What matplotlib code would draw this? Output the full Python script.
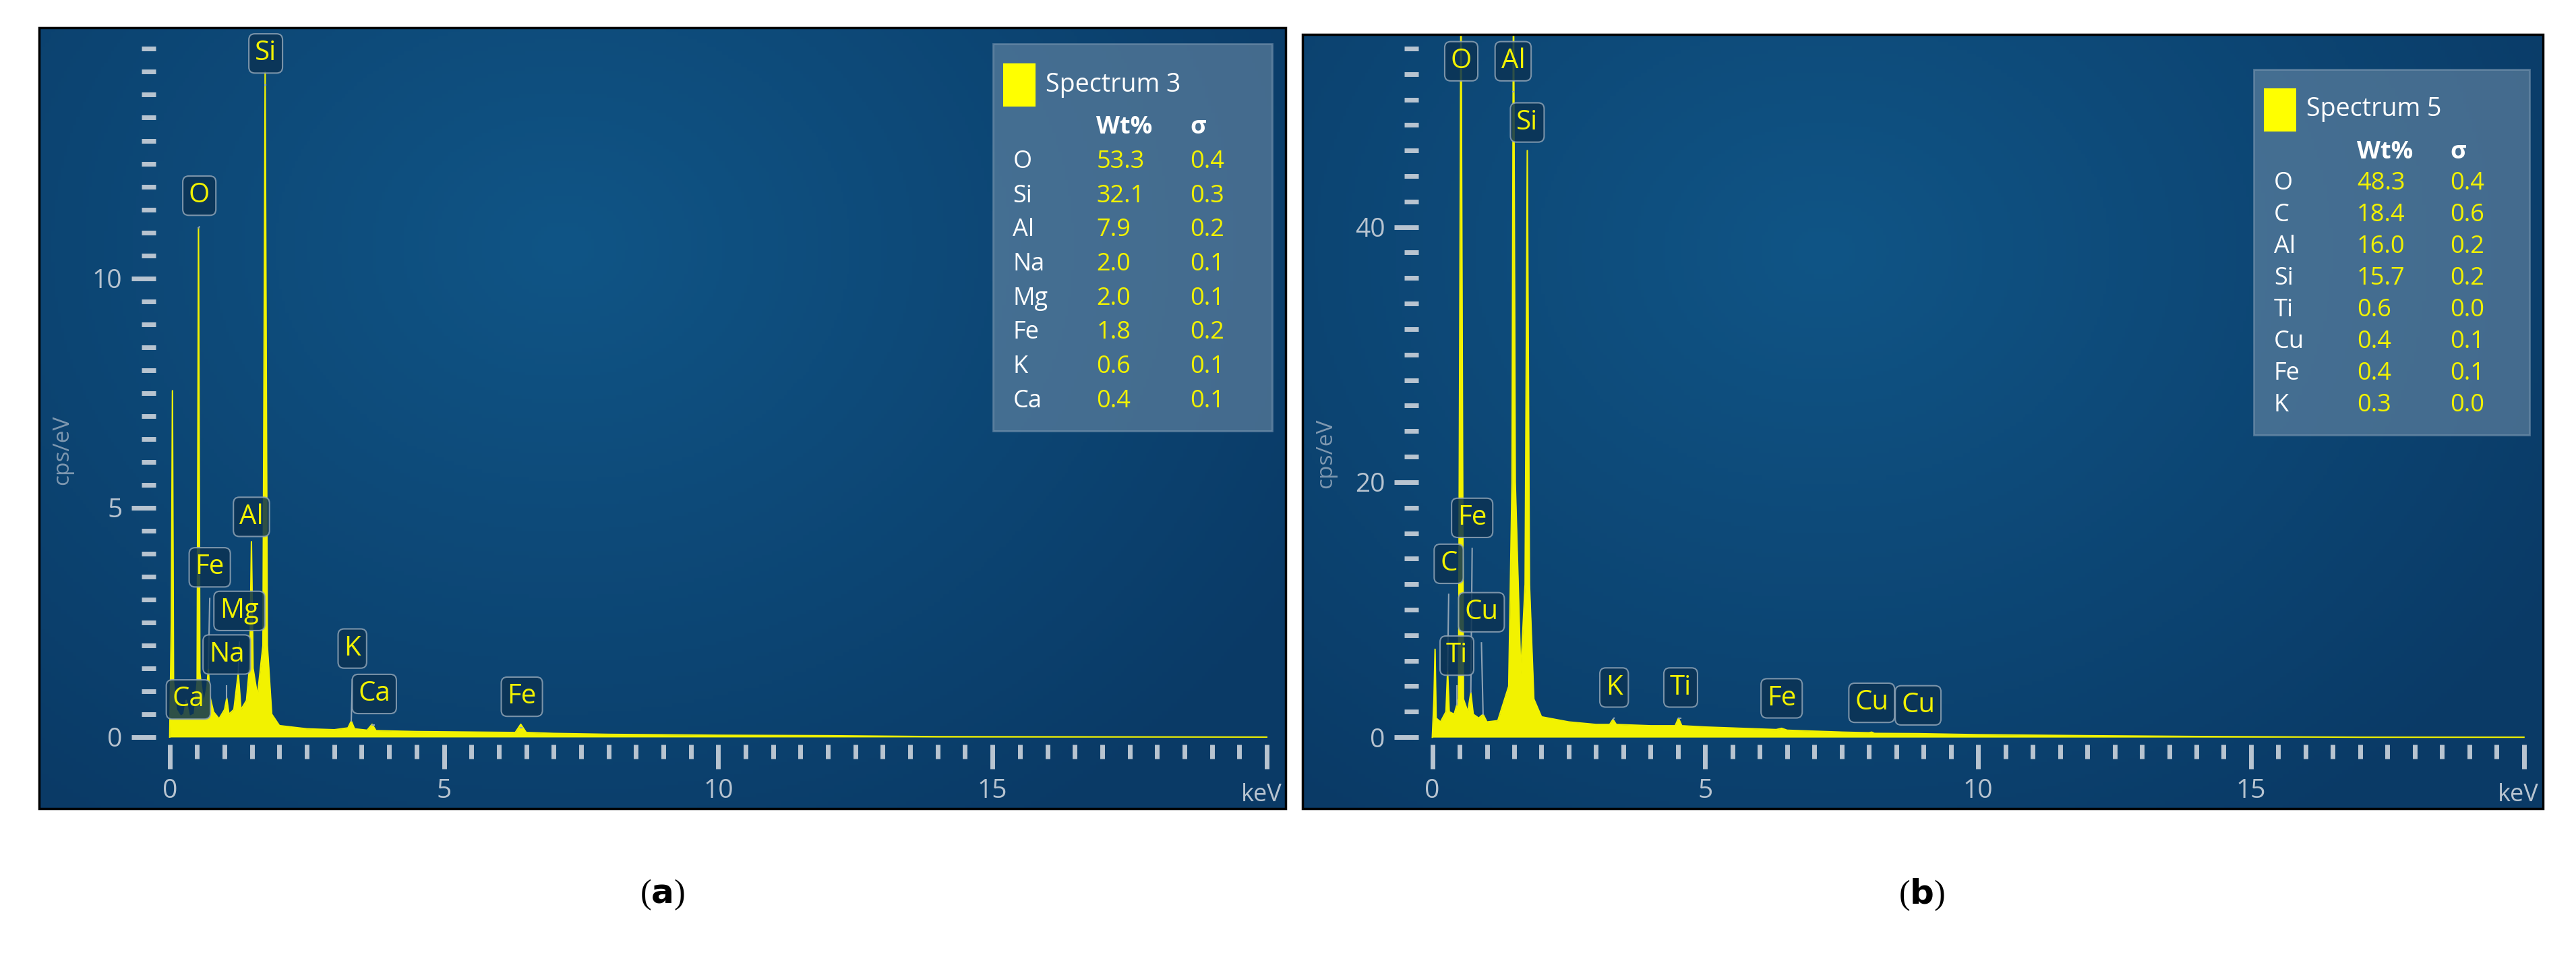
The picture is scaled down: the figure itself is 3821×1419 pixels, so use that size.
import matplotlib
matplotlib.use("Agg")
import matplotlib.pyplot as plt
from matplotlib.patches import Rectangle
from matplotlib.ticker import FixedLocator
import numpy as np

# Spectrum 3 (panel a): energy (keV) and intensity (cps/eV)
energy_a = [0.0, 0.03, 0.05, 0.07, 0.12, 0.2, 0.26, 0.3, 0.36, 0.45, 0.5, 0.525, 0.55, 0.62,
            0.68, 0.705, 0.73, 0.8, 0.9, 1.0, 1.04, 1.08, 1.17, 1.25, 1.3, 1.4, 1.46, 1.49,
            1.52, 1.6, 1.7, 1.74, 1.78, 1.86, 2.0, 2.5, 3.0, 3.25, 3.31, 3.37, 3.6, 3.69, 3.76,
            4.5, 6.3, 6.4, 6.5, 7.0, 8.0, 10.0, 12.0, 14.0, 20.0]
counts_a = [0.0, 2.5, 7.55, 1.2, 0.6, 0.45, 0.5, 0.8, 0.45, 0.5, 1.2, 11.1, 1.4, 0.7,
            1.1, 1.5, 0.9, 0.55, 0.4, 0.6, 0.85, 0.5, 0.6, 1.4, 0.6, 0.8, 1.6, 4.26,
            1.5, 0.9, 2.0, 14.5, 2.0, 0.5, 0.25, 0.18, 0.16, 0.2, 0.35, 0.18, 0.15, 0.28, 0.14,
            0.12, 0.1, 0.28, 0.1, 0.08, 0.06, 0.04, 0.03, 0.01, 0.0]

# Spectrum 5 (panel b)
energy_b = [0.0, 0.03, 0.05, 0.07, 0.15, 0.25, 0.28, 0.31, 0.4, 0.48, 0.525, 0.57, 0.65,
            0.705, 0.75, 0.85, 0.93, 1.0, 1.2, 1.4, 1.46, 1.487, 1.52, 1.62, 1.7, 1.74,
            1.78, 1.86, 2.0, 2.5, 3.0, 3.25, 3.31, 3.37, 4.0, 4.45, 4.51, 4.57, 5.0, 6.3,
            6.4, 6.5, 7.5, 8.0, 8.05, 8.1, 8.9, 10.0, 12.0, 14.0, 17.0, 20.0]
counts_b = [0.0, 3.0, 6.9, 1.5, 1.2, 2.0, 5.2, 2.0, 1.8, 3.0, 60.0, 3.0, 2.0,
            3.5, 1.8, 1.5, 1.8, 1.2, 1.3, 4.0, 20.0, 60.0, 20.0, 5.0, 12.0, 46.0,
            12.0, 3.0, 1.6, 1.2, 1.0, 1.0, 1.4, 1.0, 0.9, 0.9, 1.5, 0.9, 0.8, 0.6,
            0.7, 0.55, 0.4, 0.35, 0.4, 0.3, 0.28, 0.2, 0.12, 0.06, 0.0, 0.0]

# peak labels: element, label position (keV, cps/eV), peak energy
labels_a = [("Si", 1.75, 14.9, 1.74), ("O", 0.54, 11.8, 0.525), ("Al", 1.49, 4.8, 1.49),
            ("Fe", 0.73, 3.7, 0.705), ("Mg", 1.27, 2.75, 1.25), ("Na", 1.04, 1.8, 1.04),
            ("Ca", 0.34, 0.82, 0.34), ("K", 3.33, 1.93, 3.31), ("Ca", 3.73, 0.94, 3.69),
            ("Fe", 6.42, 0.88, 6.4)]
labels_b = [("O", 0.53, 53.0, 0.525), ("Al", 1.48, 53.0, 1.487), ("Si", 1.74, 48.2, 1.74),
            ("Fe", 0.73, 17.2, 0.705), ("C", 0.3, 13.6, 0.28), ("Cu", 0.9, 9.8, 0.93),
            ("Ti", 0.45, 6.4, 0.45), ("K", 3.33, 3.9, 3.31), ("Ti", 4.55, 3.9, 4.51),
            ("Fe", 6.4, 3.05, 6.4), ("Cu", 8.05, 2.7, 8.05), ("Cu", 8.9, 2.5, 8.9)]

# quantification tables
elements_a = ["O", "Si", "Al", "Na", "Mg", "Fe", "K", "Ca"]
wt_a = ["53.3", "32.1", "7.9", "2.0", "2.0", "1.8", "0.6", "0.4"]
sigma_a = ["0.4", "0.3", "0.2", "0.1", "0.1", "0.2", "0.1", "0.1"]
elements_b = ["O", "C", "Al", "Si", "Ti", "Cu", "Fe", "K"]
wt_b = ["48.3", "18.4", "16.0", "15.7", "0.6", "0.4", "0.4", "0.3"]
sigma_b = ["0.4", "0.6", "0.2", "0.2", "0.0", "0.1", "0.1", "0.0"]

YELLOW = "#f2f200"
TICK = "#b8c4d0"
FONT = "Open Sans"


def background(ax):
    ny, nx = 200, 400
    yy, xx = np.mgrid[0:1:ny * 1j, 0:1:nx * 1j]
    r = np.sqrt(((xx - 0.42) * 1.3) ** 2 + (yy - 0.72) ** 2)
    t = np.clip(r / 0.9, 0, 1)
    c0 = np.array([0x10, 0x55, 0x86]) / 255
    c1 = np.array([0x0a, 0x3a, 0x66]) / 255
    img = c0 * (1 - t[..., None]) + c1 * t[..., None]
    ax.imshow(img, extent=(0, 1, 0, 1), origin="lower", transform=ax.transAxes,
              aspect="auto", zorder=0)


def draw_panel(ax, energy, counts, ylim, ymajor, yminor, title, elements, wt, sigma, box):
    background(ax)
    ax.set_xlim(-2.38, 20.35)
    ax.set_ylim(*ylim)
    ax.fill_between(energy, counts, color=YELLOW, lw=0, zorder=2)
    ax.plot(energy, counts, color=YELLOW, lw=1.5, zorder=2)

    ax.spines["left"].set_position(("data", -0.25))
    ax.spines["bottom"].set_position(("data", ylim[0] * 0.1))
    for s in ax.spines.values():
        s.set_color("none")
    ax.xaxis.set_major_locator(FixedLocator([0, 5, 10, 15, 20]))
    ax.xaxis.set_minor_locator(FixedLocator(np.arange(0.5, 20, 0.5)))
    ytop = ymajor * 3
    ax.yaxis.set_major_locator(FixedLocator(np.arange(0, ytop, ymajor)))
    ax.yaxis.set_minor_locator(FixedLocator(np.arange(yminor, ylim[1] - yminor * 0.5, yminor)))
    ax.set_xticklabels(["0", "5", "10", "15", ""])
    ax.tick_params(which="major", length=26, width=5, color=TICK, labelcolor=TICK,
                   labelsize=28, pad=10)
    ax.tick_params(which="minor", length=15, width=5, color=TICK)
    for lab in ax.get_xticklabels() + ax.get_yticklabels():
        lab.set_fontfamily(FONT)
    ax.text(19.9, ylim[0] * 0.1, "keV", color=TICK, fontsize=26, family=FONT,
            ha="center", va="top", transform=ax.transData)
    ax.texts[-1].set_y(ylim[0] * 0.1 - (ylim[1] - ylim[0]) * 0.05)
    ax.text(-1.95, (ylim[0] + ylim[1]) * 0.45, "cps/eV", color="#7f98b0", fontsize=24,
            family=FONT, rotation=90, ha="center", va="center")

    ax.add_patch(Rectangle((0, 0), 1, 1, transform=ax.transAxes, fill=False,
                           ec="black", lw=2.5, clip_on=False, zorder=6))

    # legend / quantification box
    x0, y0, x1, y1 = box
    ax.add_patch(Rectangle((x0, y0), x1 - x0, y1 - y0, transform=ax.transAxes,
                           fc="#6b8aa6", ec="#7a96b0", alpha=0.6, lw=2, zorder=4))
    ax.add_patch(Rectangle((x0 + 0.008, y1 - 0.08), 0.026, 0.055, transform=ax.transAxes,
                           fc="#ffff00", ec="none", zorder=5))
    ax.text(x0 + 0.042, y1 - 0.052, title, transform=ax.transAxes, color="white",
            fontsize=27, family=FONT, va="center", zorder=5)
    cx = [x0 + 0.016, x0 + 0.083, x0 + 0.158]
    step = (y1 - y0 - 0.145) / 8
    ytx = y1 - 0.107
    ax.text(cx[1], ytx, "Wt%", transform=ax.transAxes, color="white", fontsize=26,
            family=FONT, weight="bold", va="center", zorder=5)
    ax.text(cx[2], ytx, "σ", transform=ax.transAxes, color="white", fontsize=26,
            family=FONT, weight="bold", va="center", zorder=5)
    for i, (el, w, s) in enumerate(zip(elements, wt, sigma)):
        yy = ytx - (i + 1) * step
        ax.text(cx[0], yy, el, transform=ax.transAxes, color="white", fontsize=26,
                family=FONT, va="center", zorder=5)
        ax.text(cx[1], yy, w, transform=ax.transAxes, color=YELLOW, fontsize=26,
                family=FONT, va="center", zorder=5)
        ax.text(cx[2], yy, s, transform=ax.transAxes, color=YELLOW, fontsize=26,
                family=FONT, va="center", zorder=5)


def draw_labels(ax, labels, counts_energy, counts, yspan):
    for el, lx, ly, pe in labels:
        peak = np.interp(pe, counts_energy, counts)
        bottom = ly - yspan * 0.04
        ax.plot([lx, pe], [bottom, min(peak, bottom)], color="#8fa3b5", lw=1.5, zorder=3)
        ax.text(lx, ly, el, color=YELLOW, fontsize=29, family=FONT, ha="center",
                va="center", zorder=5,
                bbox=dict(boxstyle="round,pad=0.22", fc="#0b3354", ec="#8fa3b5",
                          lw=1.5, alpha=0.85))


fig = plt.figure(figsize=(38.21, 14.19), dpi=100)
ax_a = fig.add_axes([0.0152, 0.155, 0.484, 0.816])
ax_b = fig.add_axes([0.5056, 0.155, 0.4816, 0.809])

draw_panel(ax_a, energy_a, counts_a, (-1.56, 15.46), 5, 0.5, "Spectrum 3",
           elements_a, wt_a, sigma_a, (0.765, 0.484, 0.989, 0.979))
draw_labels(ax_a, labels_a, energy_a, counts_a, 17)
draw_panel(ax_b, energy_b, counts_b, (-5.6, 55.1), 20, 2, "Spectrum 5",
           elements_b, wt_b, sigma_b, (0.767, 0.483, 0.989, 0.955))
draw_labels(ax_b, labels_b, energy_b, counts_b, 60)

for x, letter in [(0.257, "a"), (0.746, "b")]:
    fig.text(x, 0.065, "(" + r"$\mathbf{" + letter + "}$" + ")", ha="center", va="center",
             fontsize=36, family="Liberation Serif")

fig.savefig("out.png", dpi=100)
